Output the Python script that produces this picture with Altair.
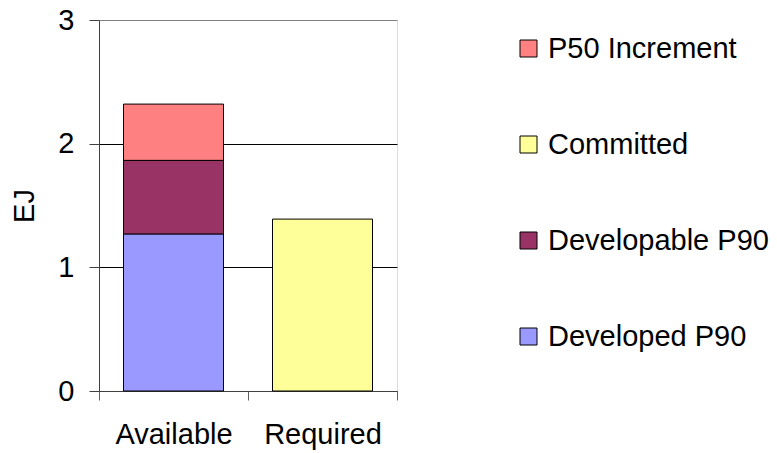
import altair as alt
import pandas as pd

# Energy supply (EJ): what is available versus what is required
groups = ["Available", "Available", "Available", "Required"]
series = ["Developed P90", "Developable P90", "P50 Increment", "Committed"]
values = [1.27, 0.595, 0.455, 1.39]
stack_rank = [0, 1, 3, 2]

legend_order = ["P50 Increment", "Committed", "Developable P90", "Developed P90"]
legend_colors = ["#FF8080", "#FFFF99", "#993366", "#9999FF"]

df = pd.DataFrame({"group": groups, "series": series, "value": values, "rank": stack_rank})

FONT = "Liberation Sans"

chart = (
    alt.Chart(df)
    .mark_bar(stroke="#000000", strokeWidth=1, width=alt.RelativeBandSize(100 / 149))
    .encode(
        x=alt.X(
            "group:N",
            title=None,
            sort=["Available", "Required"],
            scale=alt.Scale(paddingInner=0, paddingOuter=0),
            axis=alt.Axis(
                labelAngle=0,
                labelFont=FONT,
                labelFontSize=29,
                labelColor="#000000",
                labelPadding=20,
                tickBand="extent",
                tickSize=9,
                tickColor="#606060",
                domainColor="#404040",
                grid=False,
            ),
        ),
        y=alt.Y(
            "sum(value):Q",
            title="EJ",
            stack="zero",
            scale=alt.Scale(domain=[0, 3], nice=False),
            axis=alt.Axis(
                values=[0, 1, 2, 3],
                format="d",
                labelFont=FONT,
                labelFontSize=29,
                labelColor="#000000",
                labelPadding=15,
                tickSize=10,
                tickColor="#404040",
                domainColor="#404040",
                gridColor={"condition": {"test": "datum.value >= 3", "value": "#808080"}, "value": "#000000"},
                gridWidth=1,
                titleFont=FONT,
                titleFontSize=29,
                titleFontWeight="normal",
                titleColor="#000000",
                titleAngle=270,
                titleAlign="center",
                titleBaseline="alphabetic",
                titleX=-66,
                titleY=185.5,
            ),
        ),
        color=alt.Color(
            "series:N",
            scale=alt.Scale(domain=legend_order, range=legend_colors),
            legend=alt.Legend(
                title=None,
                orient="none",
                legendX=415,
                legendY=14,
                symbolType="square",
                symbolSize=289,
                symbolStrokeColor="#000000",
                symbolStrokeWidth=1,
                symbolOpacity=1,
                labelFont=FONT,
                labelFontSize=29,
                labelColor="#000000",
                labelOffset=5,
                rowPadding=66,
                labelLimit=400,
            ),
        ),
        order=alt.Order("rank:Q", sort="ascending"),
    )
    .properties(
        width=298,
        height=371,
        autosize=alt.AutoSizeParams(type="none"),
        padding={"left": 99, "top": 20, "right": 380, "bottom": 62},
    )
    .configure_view(stroke="#808080", strokeWidth=1)
    .configure(background="#ffffff")
)

chart.save("out.html", embed_options={"renderer": "svg", "actions": False})
